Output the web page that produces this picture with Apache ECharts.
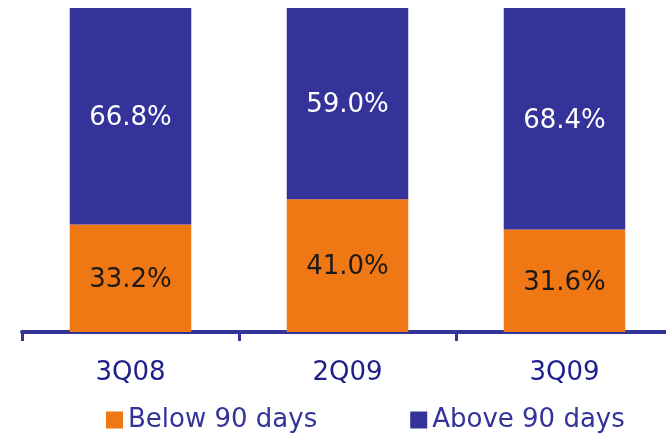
<!DOCTYPE html>
<html>
<head>
<meta charset="utf-8">
<script src="https://cdn.jsdelivr.net/npm/echarts@6/dist/echarts.min.js"></script>
<style>
  html, body { margin: 0; padding: 0; background: #ffffff; }
  #chart { width: 666px; height: 437px; }
</style>
</head>
<body>
<div id="chart"></div>
<script>
// Share of balances by age bucket, per quarter
const quarters = ['3Q08', '2Q09', '3Q09'];
const below90 = [33.2, 41.0, 31.6];
const above90 = [66.8, 59.0, 68.4];
const seriesNames = ['Below 90 days', 'Above 90 days'];

const FONT = '"DejaVu Sans", Verdana, sans-serif';
const ORANGE = '#f07814';
const BLUE = '#333399';

const chart = echarts.init(document.getElementById('chart'), null, { renderer: 'canvas' });

const pctLabel = (color) => ({
  show: true,
  position: 'inside',
  offset: [0, 2],
  color: color,
  fontFamily: FONT,
  fontSize: 26,
  formatter: (p) => p.value.toFixed(1) + '%'
});

chart.setOption({
  animation: false,
  backgroundColor: '#ffffff',
  // the plot runs a little past the right edge of the canvas
  grid: { left: 22, width: 651, top: 8, bottom: 105, containLabel: false, outerBoundsMode: 'none' },
  legend: {
    data: seriesNames,
    left: 106,
    top: 407,
    padding: 0,
    itemWidth: 17,
    itemHeight: 17,
    itemGap: 93,
    icon: 'rect',
    textStyle: { color: BLUE, fontFamily: FONT, fontSize: 26 }
  },
  xAxis: {
    type: 'category',
    data: quarters,
    axisLine: { show: true, lineStyle: { color: BLUE, width: 4 } },
    axisTick: { show: true, length: 9, lineStyle: { color: BLUE, width: 3 } },
    axisLabel: { color: '#1f1f8c', fontFamily: FONT, fontSize: 26, margin: 28 }
  },
  yAxis: {
    type: 'value',
    min: 0,
    max: 100,
    show: false,
    splitLine: { show: false }
  },
  series: [
    {
      name: seriesNames[0],
      type: 'bar',
      stack: 'total',
      barWidth: '56%',
      data: below90,
      itemStyle: { color: ORANGE },
      label: pctLabel('#1a1a1a')
    },
    {
      name: seriesNames[1],
      type: 'bar',
      stack: 'total',
      barWidth: '56%',
      data: above90,
      itemStyle: { color: BLUE },
      label: pctLabel('#ffffff')
    }
  ]
});
</script>
</body>
</html>
